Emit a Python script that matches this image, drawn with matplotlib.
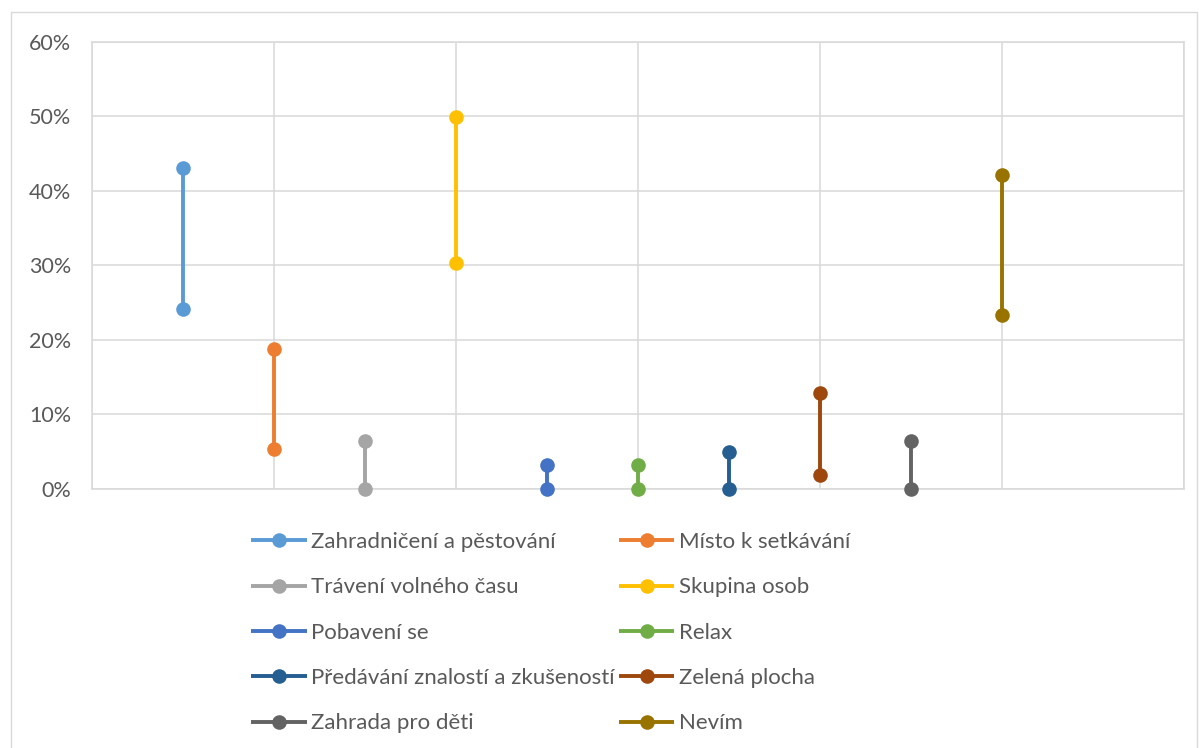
import matplotlib
matplotlib.use("Agg")
import matplotlib.pyplot as plt
from matplotlib.patches import Rectangle
from matplotlib.ticker import MultipleLocator, FuncFormatter

plt.rcParams['font.family'] = ['Lato', 'DejaVu Sans']

categories = [
    "Zahradničení a pěstování",
    "Místo k setkávání",
    "Trávení volného času",
    "Skupina osob",
    "Pobavení se",
    "Relax",
    "Předávání znalostí a zkušeností",
    "Zelená plocha",
    "Zahrada pro děti",
    "Nevím",
]
x_positions = [1, 2, 3, 4, 5, 6, 7, 8, 9, 10]
upper_values = [43.1, 18.8, 6.4, 50.0, 3.2, 3.2, 4.9, 12.9, 6.4, 42.1]
lower_values = [24.2, 5.4, 0.0, 30.4, 0.0, 0.0, 0.0, 1.9, 0.0, 23.3]
colors = ["#5B9BD5", "#ED7D31", "#A5A5A5", "#FFC000", "#4472C4",
          "#70AD47", "#255E91", "#9E480E", "#636363", "#997300"]

W, H = 1199, 748
fig = plt.figure(figsize=(W / 100, H / 100), dpi=100)

# chart frame
fig.patches.append(Rectangle((11 / W, -0.01), (1197 - 11) / W, (748 - 12) / H + 0.01,
                             transform=fig.transFigure, fill=False,
                             edgecolor="#D9D9D9", linewidth=1.0))

left, right, top, bottom = 92, 1184, 42, 489
ax = fig.add_axes([left / W, 1 - bottom / H, (right - left) / W, (bottom - top) / H])

handles = []
for x, lo, hi, c, name in zip(x_positions, lower_values, upper_values, colors, categories):
    ln, = ax.plot([x, x], [lo / 100, hi / 100], color=c, linewidth=2.8,
                  marker="o", markersize=10.5, markeredgewidth=0,
                  solid_capstyle="butt", zorder=3, label=name, clip_on=False)
    handles.append(ln)

ax.set_xlim(0, 12)
ax.set_ylim(0, 0.6)
ax.xaxis.set_major_locator(MultipleLocator(2))
ax.yaxis.set_major_locator(MultipleLocator(0.1))
ax.yaxis.set_major_formatter(FuncFormatter(lambda v, p: f"{v * 100:.0f}%"))
ax.grid(True, color="#D9D9D9", linewidth=1.1, zorder=0)
ax.set_axisbelow(True)
for s in ax.spines.values():
    s.set_color("#D9D9D9")
    s.set_linewidth(1.1)
ax.tick_params(axis="both", length=0)
ax.tick_params(axis="x", labelbottom=False)
ax.tick_params(axis="y", labelsize=15.5, labelcolor="#595959", pad=15)

# legend in two columns, filled row by row
order = list(range(0, 10, 2)) + list(range(1, 10, 2))
leg = fig.legend([handles[i] for i in order], [categories[i] for i in order],
                 ncol=2, loc="upper left", bbox_to_anchor=(251 / W, 1 - 532 / H),
                 frameon=False, fontsize=16, labelcolor="#595959",
                 handlelength=2.5, handletextpad=0.2, columnspacing=0.19,
                 labelspacing=1.14, borderaxespad=0, borderpad=0)

fig.savefig("out.png", dpi=100)
